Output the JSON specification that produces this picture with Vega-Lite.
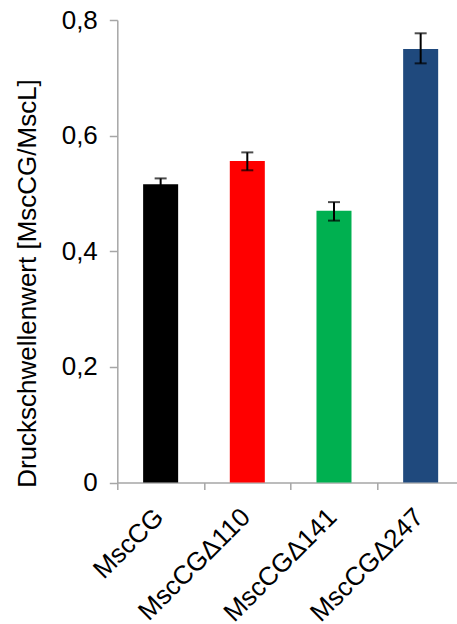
{
  "$schema": "https://vega.github.io/schema/vega-lite/v6.json",
  "autosize": {"type": "none"},
  "width": 340,
  "height": 462.5,
  "padding": {"left": 117.3, "top": 20, "right": 0, "bottom": 141.5},
  "background": "white",
  "config": {
    "view": {"stroke": null},
    "font": "Liberation Sans",
    "axis": {"grid": false, "labelFont": "Liberation Sans", "titleFont": "Liberation Sans", "labelColor": "black", "titleColor": "black", "domainColor": "#A6A6A6", "tickColor": "#A6A6A6", "domainWidth": 1.5, "tickWidth": 1.5}
  },
  "data": {"values": [
    {"name": "MscCG", "value": 0.516, "lo": 0.506, "hi": 0.526},
    {"name": "MscCGΔ110", "value": 0.556, "lo": 0.540, "hi": 0.571},
    {"name": "MscCGΔ141", "value": 0.470, "lo": 0.453, "hi": 0.485},
    {"name": "MscCGΔ247", "value": 0.750, "lo": 0.725, "hi": 0.777}
  ]},
  "encoding": {
    "x": {
      "field": "name", "type": "nominal", "sort": null,
      "scale": {"range": [0, 346.7], "paddingInner": 0, "paddingOuter": 0},
      "axis": {"title": null, "labelAngle": -45, "labelFontSize": 26, "labelPadding": 14, "labelOffset": -11, "tickSize": 7, "tickBand": "extent", "labelBound": false, "labelOverlap": false}
    }
  },
  "layer": [
    {
      "mark": {"type": "bar", "width": {"band": 0.404}},
      "encoding": {
        "y": {
          "field": "value", "type": "quantitative",
          "scale": {"domain": [0, 0.8], "nice": false},
          "axis": {
            "values": [0, 0.2, 0.4, 0.6, 0.8],
            "labelExpr": "datum.value == 0 ? '0' : replace(format(datum.value, '.1f'), '.', ',')",
            "labelFontSize": 26, "labelPadding": 12, "tickSize": 8,
            "title": "Druckschwellenwert [MscCG/MscL]",
            "titleFontSize": 26, "titleFontWeight": "normal",
            "titleX": -82, "titleY": 263, "titleAngle": -90, "titleBaseline": "alphabetic", "titleAlign": "center"
          }
        },
        "color": {
          "field": "name", "type": "nominal", "legend": null,
          "scale": {"domain": ["MscCG", "MscCGΔ110", "MscCGΔ141", "MscCGΔ247"], "range": ["#000000", "#FF0000", "#00B050", "#1F497D"]}
        }
      }
    },
    {
      "mark": {"type": "rule", "color": "black", "strokeWidth": 2},
      "encoding": {"y": {"field": "lo", "type": "quantitative"}, "y2": {"field": "hi"}}
    },
    {
      "mark": {"type": "tick", "color": "black", "thickness": 2, "size": 12},
      "encoding": {"y": {"field": "lo", "type": "quantitative"}}
    },
    {
      "mark": {"type": "tick", "color": "black", "thickness": 2, "size": 12},
      "encoding": {"y": {"field": "hi", "type": "quantitative"}}
    }
  ]
}
